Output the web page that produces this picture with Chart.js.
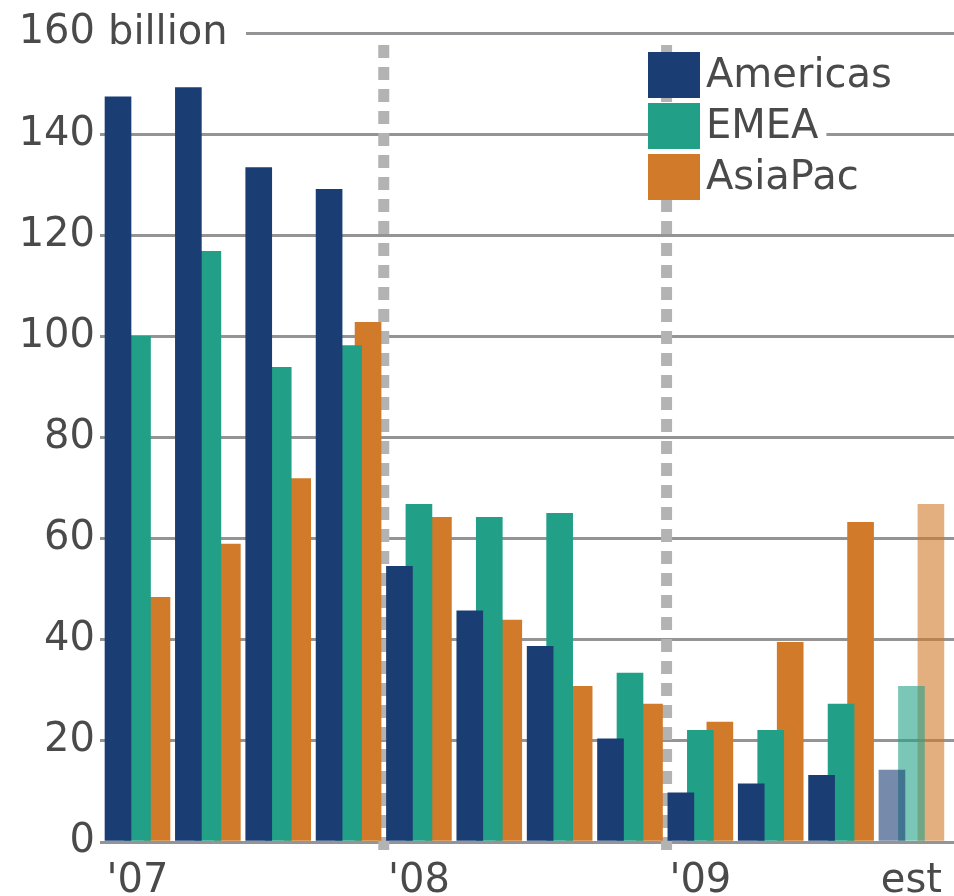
<!DOCTYPE html>
<html>
<head>
  <title>Quarterly volume by region</title>
  <script src="https://cdn.jsdelivr.net/npm/chart.js"></script>
  <style>
    html, body { margin: 0; padding: 0; background: #fff; }
    canvas { display: block; }
  </style>
</head>
<body>
  <canvas id="regionChart" width="954" height="896"></canvas>

  <script>
    // quarterly values, billions (last quarter is an estimate)
    const quarters = ["Q1 '07", "Q2 '07", "Q3 '07", "Q4 '07", "Q1 '08", "Q2 '08", "Q3 '08", "Q4 '08", "Q1 '09", "Q2 '09", "Q3 '09", "Q4 '09 est"];
    const americas = [147.4, 149.2, 133.4, 129.1, 54.5, 45.7, 38.7, 20.4, 9.7, 11.5, 13.2, 14.2];
    const emea = [100.0, 116.8, 93.9, 98.2, 66.8, 64.2, 65.0, 33.4, 22.1, 22.1, 27.3, 30.8];
    const asiaPac = [48.4, 58.9, 71.9, 102.8, 64.2, 43.9, 30.8, 27.3, 23.7, 39.5, 63.2, 66.8];
    const isEstimate = [false, false, false, false, false, false, false, false, false, false, false, true];

    const tickQuarters = [0, 4, 8, 11];
    const tickLabels = ["'07", "'08", "'09", "est"];
    const yearBreaks = [3.5, 7.52];

    const FONT = "DejaVu Sans";
    const TEXT = "#4a4a4a";
    const GRID = "#949497";
    const barShift = 0.277; // offset of side bars from group centre, in quarters

    function series(label, values, shift, solid, light) {
      return {
        label: label,
        data: values.map((v, i) => ({ x: i + shift, y: v })),
        backgroundColor: values.map((v, i) => isEstimate[i] ? light : solid),
        borderWidth: 0,
        barThickness: 26,
        grouped: false
      };
    }

    const regions = [
      series("Americas", americas, -barShift, "#1a3e74", "rgba(26,62,116,0.6)"),
      series("EMEA", emea, 0, "#22a087", "rgba(34,160,135,0.6)"),
      series("AsiaPac", asiaPac, barShift, "#d17a2a", "rgba(209,122,42,0.6)")
    ];

    const decorations = {
      id: "decorations",
      beforeDatasetsDraw(chart) {
        const ctx = chart.ctx;
        const x = chart.scales.x;
        ctx.save();
        // dotted year separators
        ctx.strokeStyle = "#b3b3b4";
        ctx.lineWidth = 11;
        ctx.setLineDash([13, 9]);
        yearBreaks.forEach(b => {
          const px = x.getPixelForValue(b);
          ctx.beginPath();
          ctx.moveTo(px, 45);
          ctx.lineTo(px, 853);
          ctx.stroke();
        });
        ctx.setLineDash([]);
        // unit label next to the top tick
        const y160 = chart.scales.y.getPixelForValue(160);
        ctx.fillStyle = "#fff";
        ctx.fillRect(chart.chartArea.left - 2, y160 - 4, 148, 8);
        ctx.fillStyle = TEXT;
        ctx.font = "40px " + FONT;
        ctx.textBaseline = "middle";
        ctx.fillText("billion", 108, y160 + 1);
        ctx.restore();
      },
      afterDraw(chart) {
        const ctx = chart.ctx;
        ctx.save();
        ctx.font = "40px " + FONT;
        ctx.textBaseline = "middle";
        regions.forEach((ds, i) => {
          const top = 52 + i * 51;
          const w = ctx.measureText(ds.label).width;
          ctx.fillStyle = "#fff";
          ctx.fillRect(700, top, w + 14, 46);
          ctx.fillStyle = ds.backgroundColor[0];
          ctx.fillRect(648, top, 52, 46);
          ctx.fillStyle = TEXT;
          ctx.fillText(ds.label, 706, top + 25);
        });
        ctx.restore();
      }
    };

    new Chart(document.getElementById("regionChart"), {
      type: "bar",
      data: { datasets: regions },
      options: {
        responsive: false,
        animation: false,
        layout: { padding: { top: 33, right: 0, bottom: 0, left: 0 } },
        plugins: { legend: { display: false }, tooltip: { enabled: false } },
        scales: {
          x: {
            type: "linear",
            offset: false,
            min: -0.533,
            max: 11.605,
            grid: { display: false },
            border: { display: false },
            afterBuildTicks: scale => { scale.ticks = tickQuarters.map(v => ({ value: v })); },
            afterFit: scale => { scale.height = 54; },
            ticks: {
              autoSkip: false,
              maxRotation: 0,
              padding: 8,
              color: TEXT,
              font: { family: FONT, size: 40 },
              callback: (value, index) => tickLabels[index]
            }
          },
          y: {
            min: 0,
            max: 160,
            afterFit: scale => { scale.width = 100; },
            grid: { color: GRID, lineWidth: 3, drawTicks: false },
            border: { display: false },
            ticks: {
              stepSize: 20,
              padding: 5,
              color: TEXT,
              font: { family: FONT, size: 40 }
            }
          }
        }
      },
      plugins: [decorations]
    });
  </script>
</body>
</html>
